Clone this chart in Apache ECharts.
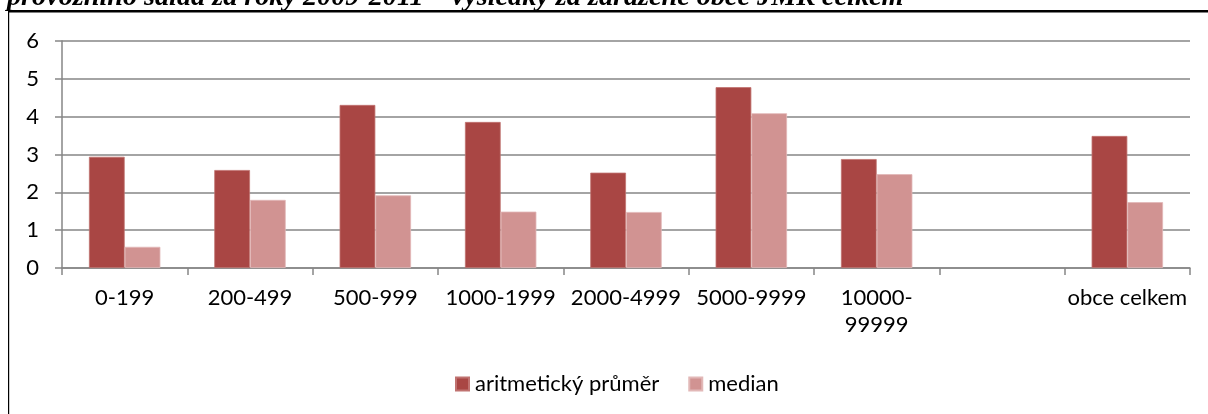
<!DOCTYPE html>
<html><head><meta charset="utf-8">
<script src="https://cdn.jsdelivr.net/npm/echarts@6/dist/echarts.min.js"></script>
<style>html,body{margin:0;padding:0;background:#fff}#c{width:1208px;height:414px}</style>
</head><body><div id="c"></div>
<script>
const titleText = 'provozního salda za roky 2009-2011 – výsledky za zařazené obce JMK celkem';
const categories = ['0-199','200-499','500-999','1000-1999','2000-4999','5000-9999','10000-\n99999','','obce celkem'];
const seriesNames = ['aritmetický průměr','median'];
const averageValues = [2.94, 2.59, 4.31, 3.86, 2.52, 4.78, 2.88, null, 3.49];
const medianValues = [0.56, 1.80, 1.92, 1.49, 1.48, 4.09, 2.48, null, 1.74];
const yTicks = {min: 0, max: 6, interval: 1};

const chart = echarts.init(document.getElementById('c'), null, {renderer: 'canvas'});
const font = 'Lato, "Open Sans", sans-serif';
chart.setOption({
  animation: false,
  backgroundColor: '#fff',
  graphic: [
    {type: 'text', left: 7, top: -16, z: 10, style: {text: titleText, font: 'italic bold 28.2px "Liberation Serif", serif', fill: '#000'}},
    {type: 'rect', shape: {x: 8, y: 10, width: 1200, height: 2.5}, style: {fill: '#000'}, z: 10},
    {type: 'rect', shape: {x: 8, y: 10, width: 1.2, height: 404}, style: {fill: '#000'}, z: 10}
  ],
  legend: {
    top: 373, left: 455, padding: 0, itemWidth: 13, itemHeight: 13, itemGap: 29,
    icon: 'rect',
    textStyle: {fontFamily: font, fontSize: 22, color: '#000', padding: [0, 0, 0, 1]},
    data: seriesNames
  },
  grid: {left: 62, right: 18, top: 41, bottom: 146, containLabel: false},
  xAxis: {
    type: 'category', data: categories,
    axisLine: {lineStyle: {color: '#868686', width: 1.5}},
    axisTick: {show: true, alignWithLabel: false, length: 7, lineStyle: {color: '#868686', width: 1.5}},
    axisLabel: {interval: 0, fontFamily: font, fontSize: 22, color: '#000', margin: 16, lineHeight: 27}
  },
  yAxis: {
    type: 'value', min: yTicks.min, max: yTicks.max, interval: yTicks.interval,
    axisLine: {show: true, lineStyle: {color: '#868686', width: 1.5}},
    axisTick: {show: true, length: 7, lineStyle: {color: '#868686', width: 1.5}},
    splitLine: {lineStyle: {color: '#868686', width: 1.5}},
    axisLabel: {fontFamily: font, fontSize: 22, color: '#000', margin: 23}
  },
  series: [
    {name: seriesNames[0], type: 'bar', data: averageValues, barGap: '0%', barCategoryGap: '43%',
     itemStyle: {color: '#A94644', borderColor: '#C07270', borderWidth: 0.8}},
    {name: seriesNames[1], type: 'bar', data: medianValues,
     itemStyle: {color: '#D19392', borderColor: '#E2B8B7', borderWidth: 0.8}}
  ]
});
</script></body></html>
